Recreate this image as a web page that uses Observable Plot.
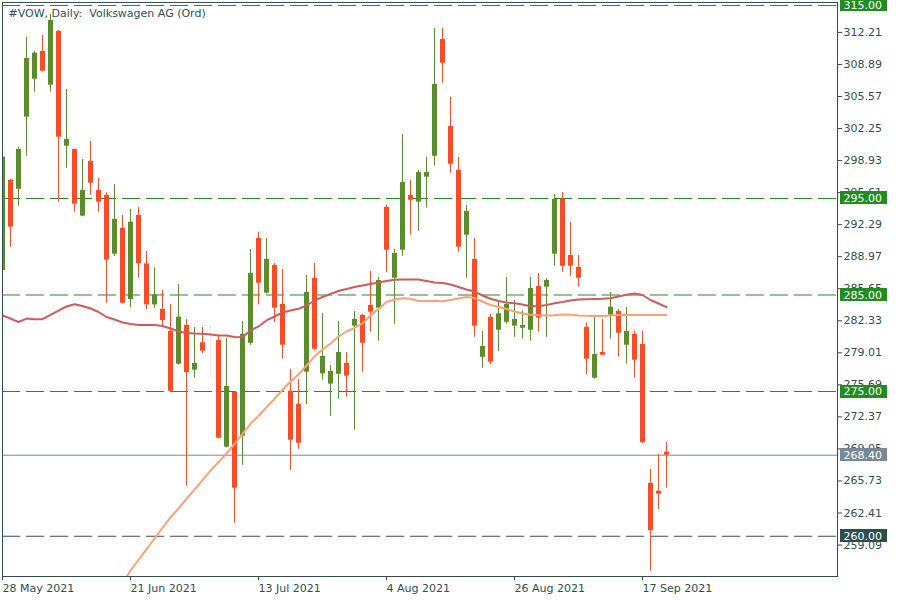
<!DOCTYPE html>
<html><head><meta charset="utf-8">
<script src="https://cdn.jsdelivr.net/npm/d3@7"></script>
<script src="https://cdn.jsdelivr.net/npm/@observablehq/plot@0.6"></script>
<style>body{margin:0;background:#fff} svg{display:block;background:#fff}</style>
</head><body><div id="chart"></div>
<script>
const title = "#VOW, Daily:\u00a0 Volkswagen AG (Ord)";
const opens  = [287.54,296.87,295.96,303.43,307.36,310.23,306.74,312.31,300.42,300.08,293.17,298.83,295.83,295.31,289.23,291.89,284.53,293.24,288.23,283.98,283.50,281.22,277.83,281.84,277.21,280.05,279.25,280.28,269.23,274.90,270.37,280.00,290.85,285.19,288.06,284.02,275.03,273.65,277.00,286.71,276.83,275.76,276.79,277.90,281.77,282.88,283.91,283.63,294.07,286.74,289.64,295.31,294.62,297.21,299.38,311.48,302.46,297.90,291.20,288.68,278.55,282.67,281.35,282.18,281.77,281.56,281.35,285.88,285.81,289.23,294.90,289.09,287.85,281.63,276.38,279.04,282.91,283.29,279.80,280.91,279.87,265.47,264.67,268.71];
const highs  = [299.50,297.00,300.32,311.72,310.26,311.89,314.07,312.40,306.30,300.10,299.04,300.91,297.07,295.59,296.45,293.24,293.86,294.04,289.51,287.82,285.47,284.02,286.09,282.46,281.63,281.63,281.84,280.80,280.52,275.00,282.25,289.72,291.51,290.85,288.26,287.64,277.28,276.24,287.02,288.26,283.08,277.69,282.25,279.04,283.29,283.00,287.44,286.81,294.31,289.72,301.63,296.87,297.90,299.25,312.62,312.62,305.47,299.25,294.27,290.85,281.22,283.00,284.33,286.81,284.43,283.36,286.81,287.23,286.71,295.41,295.62,292.51,289.09,282.08,282.70,282.46,285.26,283.50,283.70,281.25,281.25,266.92,268.47,269.72];
const lows   = [287.30,289.95,294.20,299.38,306.02,308.10,306.02,294.62,298.14,293.58,293.10,295.34,293.58,284.15,289.00,284.05,283.67,286.74,283.47,283.63,281.77,274.95,277.75,265.19,276.38,278.91,276.38,270.10,269.15,261.35,267.36,279.80,283.98,285.10,282.18,278.35,266.84,269.02,273.62,279.22,276.17,272.44,274.20,274.41,270.99,277.00,281.15,280.21,287.36,281.97,289.02,291.20,291.61,294.00,298.35,306.95,297.62,289.44,286.74,280.63,277.41,277.80,279.15,281.97,280.63,280.42,280.21,281.15,280.63,287.98,287.36,286.95,285.81,276.76,276.30,278.70,280.42,278.56,277.83,276.38,269.61,256.38,262.77,264.98];
const closes = [299.28,292.03,300.08,309.51,310.06,308.19,313.45,301.35,301.11,294.41,295.83,296.59,294.62,288.61,292.82,284.15,292.54,288.23,283.98,285.02,282.36,275.03,282.70,276.97,277.90,279.18,279.25,270.16,275.52,264.98,280.91,287.23,286.22,288.68,283.63,279.80,269.95,269.64,285.26,279.38,278.63,277.07,279.04,276.59,282.46,280.00,283.22,286.50,289.64,289.30,296.66,294.82,297.69,297.69,306.81,309.02,298.55,289.95,293.65,281.77,279.66,278.04,283.05,284.02,282.46,281.84,285.67,282.60,286.50,294.90,287.98,287.98,286.74,278.35,278.83,278.76,283.74,281.04,281.22,278.24,269.72,260.60,264.36,268.40];
const maFast = [282.88,282.56,282.20,282.56,282.49,282.49,282.93,283.39,283.81,284.05,283.86,283.60,283.24,282.72,282.46,282.15,281.99,281.89,281.89,281.89,281.79,281.53,281.22,281.06,281.01,280.98,280.91,280.80,280.80,280.65,280.63,281.32,281.74,282.36,282.77,283.19,283.39,283.57,283.91,284.43,284.79,285.10,285.41,285.62,285.83,285.98,286.14,286.30,286.45,286.58,286.61,286.61,286.61,286.45,286.30,286.24,286.09,285.83,285.57,285.36,284.95,284.61,284.38,284.22,284.15,284.02,283.84,283.84,283.96,284.15,284.27,284.43,284.53,284.57,284.59,284.61,284.67,284.84,285.02,285.16,285.00,284.48,284.12,283.74];
const maSlowStart = 15;
const maSlow = [255.10,256.45,257.54,258.66,259.77,260.87,261.97,262.88,263.86,264.84,265.81,266.81,267.68,268.58,269.56,270.62,271.65,272.46,273.39,274.22,275.16,276.04,276.76,277.69,278.63,279.35,279.97,280.70,281.22,281.58,282.05,282.88,283.55,284.27,284.53,284.67,284.61,284.38,284.38,284.40,284.36,284.48,284.64,284.79,284.69,284.33,283.96,283.79,283.55,283.29,283.08,282.95,282.91,282.88,282.91,282.98,282.95,282.88,282.84,282.82,282.82,282.88,282.93,282.93,282.93,282.93,282.93,282.93,282.93];
const dateTickIndex = [0,16,32,48,64,80];
const dateTickLabels = ["28 May 2021","21 Jun 2021","13 Jul 2021","4 Aug 2021","26 Aug 2021","17 Sep 2021"];
const priceTicks = [312.21,308.89,305.57,302.25,298.93,295.61,292.29,288.97,285.65,282.33,279.01,275.69,272.37,269.05,265.73,262.41,259.09];
const greenLevels = [315,295,285,275];
const supportLevel = 260;
const lastPrice = 268.40;

const GREEN = "#5A8D2E", RED = "#F44D27", DOJI = "#FCE6DA";
const LEVEL = "#228B22", DARK = "#2F4F4F", GRAY = "#778899";

const candles = opens.map((o, i) => ({i, open: o, high: highs[i], low: lows[i], close: closes[i]}));
const up = candles.filter(d => d.close > d.open);
const down = candles.filter(d => d.close < d.open);
const doji = candles.filter(d => d.close === d.open);
const fast = maFast.map((v, i) => ({i, v}));
const slow = maSlow.map((v, k) => ({i: k + maSlowStart, v}));
const boxes = [
  ...greenLevels.map(p => ({p, color: LEVEL})),
  {p: supportLevel, color: DARK},
  {p: lastPrice, color: GRAY}
];

const bodyX1 = d => d.i - 0.25, bodyX2 = d => d.i + 0.375;

const chart = Plot.plot({
  width: 900, height: 600,
  marginLeft: 2, marginTop: 2, marginRight: 63, marginBottom: 24,
  style: {fontFamily: "DejaVu Sans", fontSize: "11px", color: DARK, background: "#fff"},
  x: {type: "linear", domain: [0, 104.375], label: null},
  y: {domain: [255.83, 315.31], label: null},
  marks: [
    Plot.ruleY(greenLevels, {stroke: LEVEL, strokeDasharray: "18,6"}),
    Plot.ruleY([supportLevel], {stroke: DARK, strokeDasharray: "18,6"}),
    Plot.ruleY([lastPrice], {stroke: GRAY}),
    Plot.ruleX(up, {x: "i", y1: "low", y2: "high", stroke: GREEN, clip: true}),
    Plot.ruleX(down, {x: "i", y1: "low", y2: "high", stroke: RED, clip: true}),
    Plot.ruleX(doji, {x: "i", y1: "low", y2: "high", stroke: DOJI, clip: true}),
    Plot.rect(up, {x1: bodyX1, x2: bodyX2, y1: "open", y2: "close", fill: GREEN, clip: true}),
    Plot.rect(down, {x1: bodyX1, x2: bodyX2, y1: "open", y2: "close", fill: RED, clip: true}),
    Plot.line(slow, {x: "i", y: "v", stroke: "#FFA07A", strokeWidth: 2, clip: true}),
    Plot.line(fast, {x: "i", y: "v", stroke: "#CD5C5C", strokeWidth: 2, clip: true}),
    Plot.frame({stroke: DARK}),
    Plot.axisX(dateTickIndex, {anchor: "bottom", tickSize: 4, tickPadding: 4, textAnchor: "start", label: null,
      tickFormat: d => dateTickLabels[dateTickIndex.indexOf(d)], fill: DARK, stroke: DARK}),
    Plot.axisY(priceTicks, {anchor: "right", tickSize: 4, tickPadding: 2, label: null,
      tickFormat: d => d.toFixed(2), fill: DARK, stroke: DARK}),
    Plot.text(boxes, {y: "p", frameAnchor: "right", dx: 6, textAnchor: "start",
      text: d => d.p.toFixed(2), fill: "white"}),
    Plot.text([title], {frameAnchor: "top-left", dx: 6, dy: 6.5, textAnchor: "start", lineAnchor: "top", fill: DARK})
  ]
});
document.getElementById("chart").appendChild(chart);

// background boxes for the price labels, placed behind their text
const yScale = chart.scale("y");
const labelG = [...chart.querySelectorAll("g")].find(g =>
  g.querySelector(":scope > text") && [...g.querySelectorAll(":scope > text")].some(t => t.textContent === "268.40"));
if (labelG) {
  const boxG = document.createElementNS("http://www.w3.org/2000/svg", "g");
  labelG.parentNode.insertBefore(boxG, labelG);
  d3.select(boxG).selectAll("rect").data(boxes).join("rect")
    .attr("x", 840).attr("width", 47)
    .attr("y", d => Math.round(yScale.apply(d.p) - 6.5)).attr("height", 13)
    .attr("fill", d => d.color);
}
</script></body></html>
